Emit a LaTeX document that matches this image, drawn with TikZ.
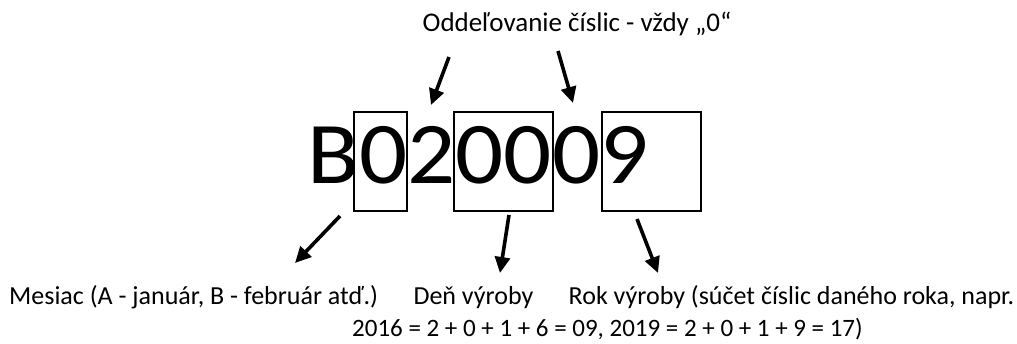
\documentclass[tikz,border=0pt]{standalone}
\usepackage{fontspec}
\setmainfont{Carlito}
\usetikzlibrary{arrows.meta,positioning}
\begin{document}
\begin{tikzpicture}[x=1pt, y=-1pt,
		box/.style = {draw, line width=1.8pt, minimum width=#1, minimum height=99pt, inner sep=0pt},
		arr/.style = {line width=3.6pt, -{Triangle[length=16pt, width=15pt]}},
		txt/.style = {font=\fontsize{26}{30}\selectfont, inner sep=0pt}]
		\useasboundingbox (0,0) rectangle (1017,344);
		%Kod
		\node[font=\fontsize{88}{90}\selectfont, anchor=base west, inner sep=0pt] (kod) at (307.5,184) {\scalebox{1.08}[1]{B020009}};
		\node[box=53pt] (mesbox) at (380.5,161.5) {};	% mesiac
		\node[box=99pt] (denbox) at (503.5,161.5) {};	% den
		\node[box=99pt] (rokbox) at (651.5,161.5) {};	% rok
		%Texty
		\node[font=\fontsize{27}{30}\selectfont, inner sep=0pt, anchor=base] (oddel) at (577,32) {Oddeľovanie číslic - vždy „0“};
		\node[txt, anchor=base west] (mesiac) at (9,305) {Mesiac (A - január, B - február atď.)};
		\node[txt, right=35pt of mesiac.base east, anchor=base west] (den) {Deň výroby};
		\node[txt, right=35pt of den.base east, anchor=base west] (rok) {Rok výroby (súčet číslic daného roka, napr.};
		\node[font=\fontsize{25}{28}\selectfont, inner sep=0pt, anchor=base west] (priklad) at (352,337) {2016 = 2 + 0 + 1 + 6 = 09, 2019 = 2 + 0 + 1 + 9 = 17)};
		% Sipky
		\coordinate (t1a) at (449,57);	\coordinate (t1b) at (431,105);
		\coordinate (t2a) at (558,51);	\coordinate (t2b) at (573,103);
		\coordinate (b1a) at (340,216);	\coordinate (b1b) at (295,263);
		\coordinate (b2a) at (509,215);	\coordinate (b2b) at (500,273);
		\coordinate (b3a) at (637,219);	\coordinate (b3b) at (658,273);
		\draw[arr] (t1a) -- (t1b);	% oddelovac 1
		\draw[arr] (t2a) -- (t2b);	% oddelovac 2
		\draw[arr] (b1a) -- (b1b);	% mesiac
		\draw[arr] (b2a) -- (b2b);	% den
		\draw[arr] (b3a) -- (b3b);	% rok
\end{tikzpicture}
\end{document}
